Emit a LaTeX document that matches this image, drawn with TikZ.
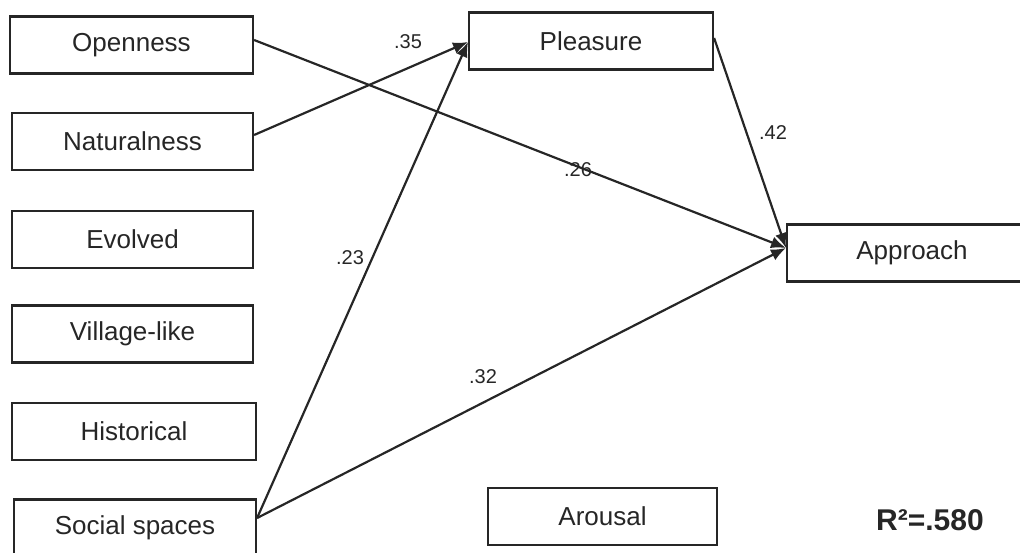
\documentclass[tikz,border=0pt]{standalone}
\usepackage{fontspec}
\setmainfont{Liberation Sans}
\usetikzlibrary{arrows.meta}
\begin{document}
\begin{tikzpicture}[x=1pt,y=-1pt,
  var/.style={draw=black!85, line width=2.2pt, rectangle, minimum height=57pt,
    inner sep=0pt, font=\fontsize{26}{31}\selectfont, text=black!85},
  path/.style={draw=black!85, line width=2.2pt, -{Latex[length=15pt,width=12pt]}},
  coef/.style={font=\fontsize{20}{23}\selectfont, text=black!85, inner sep=0pt}]
\useasboundingbox (0,0) rectangle (1020,553);
\clip (0,0) rectangle (1020,553);

% exogenous variables
\node[var, minimum width=243pt] (open) at (131.5,45) {Openness};
\node[var, minimum width=241pt] (nat)  at (132.5,141.5) {Naturalness};
\node[var, minimum width=241pt] (evo)  at (132.5,239.5) {Evolved};
\node[var, minimum width=241pt] (vil)  at (132.5,334) {Village-like};
\node[var, minimum width=244pt] (hist) at (134,431.5) {Historical};
\node[var, minimum width=242pt] (soc)  at (135,528) {Social spaces};

% mediators and outcome
\node[var, minimum width=244pt] (pls)  at (591,41) {Pleasure};
\node[var, minimum width=229pt] (aro)  at (602.5,516.5) {Arousal};
\node[var, minimum width=250pt] (app)  at (912,253) {Approach};

% convergence points of the paths
\coordinate (plsIn) at (468,42);
\coordinate (appIn) at (786,248);

% structural paths
\draw[path] ([yshift=5pt]open.east) -- (appIn);
\draw[path] ([yshift=6.5pt]nat.east) -- (plsIn);
\draw[path] ([yshift=10pt]soc.east) -- (plsIn);
\draw[path] ([yshift=10pt]soc.east) -- (appIn);
\draw[path] ([yshift=3pt]pls.east) -- (appIn);

% path coefficients
\node[coef] (c35) at (408,42) {.35};
\node[coef] (c42) at (773,133) {.42};
\node[coef] (c26) at (578,170) {.26};
\node[coef] (c23) at (350,258) {.23};
\node[coef] (c32) at (483,377) {.32};

\node[font=\bfseries\fontsize{30}{34}\selectfont, text=black!85, inner sep=0pt] (r2) at (930,520) {R²=.580};
\end{tikzpicture}
\end{document}
